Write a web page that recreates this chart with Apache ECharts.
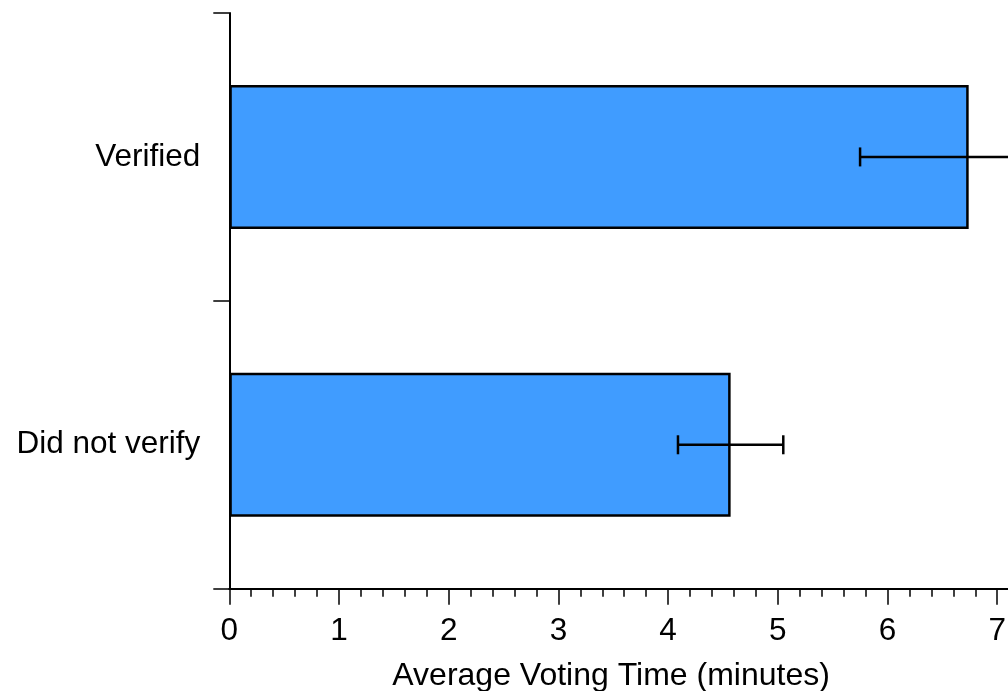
<!DOCTYPE html>
<html>
<head>
<meta charset="utf-8">
<script src="https://cdn.jsdelivr.net/npm/echarts@6/dist/echarts.min.js"></script>
<style>
  html, body { margin: 0; padding: 0; background: #fff; }
  #chart { width: 1008px; height: 691px; }
</style>
</head>
<body>
<div id="chart"></div>
<script>
const categories = ['Verified', 'Did not verify'];
const meanTimes = [6.74, 4.57];
const errorMargins = [0.99, 0.48];
const axisTitle = 'Average Voting Time (minutes)';

const FONT = '"Liberation Sans", Arial, Helvetica, sans-serif';

const errorData = categories.map((c, i) => [i, meanTimes[i] - errorMargins[i], meanTimes[i] + errorMargins[i]]);

const chart = echarts.init(document.getElementById('chart'), null, { renderer: 'canvas' });

chart.setOption({
  animation: false,
  backgroundColor: '#ffffff',
  grid: {
    left: 229.3,
    right: -98.9,
    top: 13,
    bottom: 102.3,
    outerBoundsMode: 'none',
    containLabel: false
  },
  xAxis: {
    type: 'value',
    min: 0,
    max: 8,
    interval: 1,
    name: axisTitle,
    nameLocation: 'middle',
    nameGap: 71,
    nameTextStyle: {
      fontSize: 32,
      color: '#000',
      fontFamily: FONT,
      padding: [0, 114, 0, 0]
    },
    axisLine: { show: true, lineStyle: { color: '#000', width: 2 } },
    axisTick: { show: true, length: 16, lineStyle: { color: '#000', width: 1.5 } },
    minorTick: { show: true, splitNumber: 5, length: 8, lineStyle: { color: '#000', width: 1.5 } },
    splitLine: { show: false },
    minorSplitLine: { show: false },
    axisLabel: { fontSize: 31.5, color: '#000', fontFamily: FONT, margin: 27 }
  },
  yAxis: {
    type: 'category',
    data: categories,
    inverse: true,
    axisLine: { show: true, lineStyle: { color: '#000', width: 2 } },
    axisTick: { show: true, length: 16, lineStyle: { color: '#000', width: 1.5 } },
    splitLine: { show: false },
    axisLabel: { fontSize: 31.5, color: '#000', fontFamily: FONT, margin: 29, padding: [4, 0, 0, 0] }
  },
  series: [
    {
      type: 'bar',
      data: meanTimes,
      barWidth: '50%',
      itemStyle: { color: '#409cff', borderColor: '#000', borderWidth: 2.5 },
      z: 2
    },
    {
      type: 'custom',
      data: errorData,
      encode: { x: [1, 2], y: 0 },
      z: 5,
      renderItem: function (params, api) {
        const ci = api.value(0);
        const lo = api.coord([api.value(1), ci]);
        const hi = api.coord([api.value(2), ci]);
        const cap = 9.5;
        const style = { stroke: '#000', lineWidth: 2.5 };
        return {
          type: 'group',
          children: [
            { type: 'line', shape: { x1: lo[0], y1: lo[1], x2: hi[0], y2: hi[1] }, style: style },
            { type: 'line', shape: { x1: lo[0], y1: lo[1] - cap, x2: lo[0], y2: lo[1] + cap }, style: style },
            { type: 'line', shape: { x1: hi[0], y1: hi[1] - cap, x2: hi[0], y2: hi[1] + cap }, style: style }
          ]
        };
      }
    }
  ]
});
</script>
</body>
</html>
